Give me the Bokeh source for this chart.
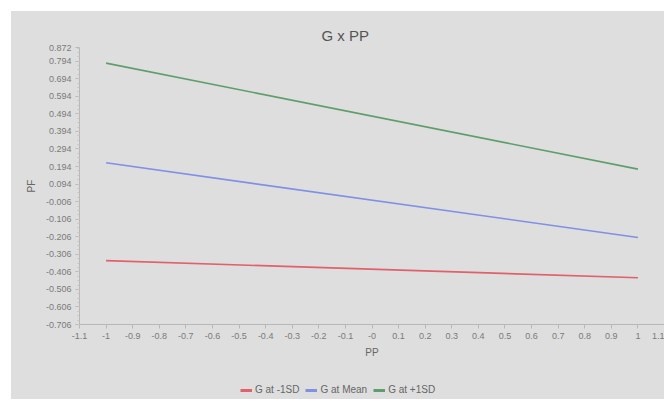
from bokeh.plotting import figure
from bokeh.models import FixedTicker, Legend, LegendItem, Range1d, Title
from bokeh.layouts import column
from bokeh.embed import file_html
from bokeh.resources import INLINE

# ---- data ----
pp = [-1, 1]
g_minus_1sd = [-0.342, -0.44]
g_mean = [0.215, -0.21]
g_plus_1sd = [0.783, 0.179]

series_names = ["G at -1SD", "G at Mean", "G at +1SD"]
series_colors = ["#e0606c", "#8090e4", "#5f9e6c"]

x_ticks = [-1.1, -1.0, -0.9, -0.8, -0.7, -0.6, -0.5, -0.4, -0.3, -0.2, -0.1, 0.0,
           0.1, 0.2, 0.3, 0.4, 0.5, 0.6, 0.7, 0.8, 0.9, 1.0, 1.1]
x_labels = ["-1.1", "-1", "-0.9", "-0.8", "-0.7", "-0.6", "-0.5", "-0.4", "-0.3", "-0.2",
            "-0.1", "-0", "0.1", "0.2", "0.3", "0.4", "0.5", "0.6", "0.7", "0.8", "0.9",
            "1", "1.1"]
y_ticks = [0.872, 0.794, 0.694, 0.594, 0.494, 0.394, 0.294, 0.194, 0.094, -0.006,
           -0.106, -0.206, -0.306, -0.406, -0.506, -0.606, -0.706]
y_labels = ["0.872", "0.794", "0.694", "0.594", "0.494", "0.394", "0.294", "0.194",
            "0.094", "-0.006", "-0.106", "-0.206", "-0.306", "-0.406", "-0.506",
            "-0.606", "-0.706"]
y_minor = [-0.706 + 0.025 * i for i in range(64)]

BG = "#dedede"
FONT = "Liberation Sans"
TXT = "#7a7a7a"

p = figure(width=653, height=364, output_backend="svg", toolbar_location=None,
           x_range=Range1d(-1.1, 1.1), y_range=Range1d(-0.706, 0.872),
           min_border_left=68, min_border_right=0, min_border_top=36,
           min_border_bottom=51)
p.frame_align = False
p.background_fill_color = BG
p.border_fill_color = BG
p.outline_line_color = None
p.grid.visible = False

title = Title(text="G x PP", align="left", offset=242, standoff=8,
              text_font=FONT, text_font_size="15px", text_font_style="normal",
              text_color="#555555")
p.add_layout(title, "above")

renderers = []
for ys, c in zip([g_minus_1sd, g_mean, g_plus_1sd], series_colors):
    r = p.line(pp, ys, line_color=c, line_width=1.6)
    renderers.append(r)

for ax in (p.xaxis[0], p.yaxis[0]):
    ax.axis_line_color = "#b8b8b8"
    ax.major_tick_line_color = "#b8b8b8"
    ax.minor_tick_line_color = "#c4c4c4"
    ax.major_label_text_font = FONT
    ax.major_label_text_font_size = "9px"
    ax.major_label_text_color = TXT
    ax.axis_label_text_font = FONT
    ax.axis_label_text_font_size = "10px"
    ax.axis_label_text_font_style = "normal"
    ax.axis_label_text_color = "#666666"
    ax.major_tick_in = 0
    ax.major_tick_out = 4
    ax.minor_tick_in = 0
    ax.minor_tick_out = 2

p.xaxis[0].ticker = FixedTicker(ticks=x_ticks)
p.xaxis[0].major_label_overrides = dict(zip(x_ticks, x_labels))
p.xaxis[0].axis_label = "PP"
p.xaxis[0].major_label_standoff = 4
p.xaxis[0].axis_label_standoff = 5

p.yaxis[0].ticker = FixedTicker(ticks=y_ticks, minor_ticks=y_minor)
p.yaxis[0].major_label_overrides = dict(zip(y_ticks, y_labels))
p.yaxis[0].axis_label = "PF"
p.yaxis[0].major_label_standoff = 4
p.yaxis[0].axis_label_standoff = 6

# legend strip (separate figure below the chart); its swatch lines carry the
# same series data but lie outside this strip's range, so only the legend shows
lg = figure(width=653, height=24, output_backend="svg", toolbar_location=None,
            x_axis_location=None, y_axis_location=None,
            x_range=Range1d(10, 11), y_range=Range1d(10, 11),
            min_border=0, min_border_left=0, min_border_right=0,
            min_border_top=0, min_border_bottom=0)
lg.frame_align = False
lg.background_fill_color = BG
lg.border_fill_color = BG
lg.outline_line_color = None
lg.grid.visible = False
lg_renderers = [lg.line(pp, ys, line_color=c, line_width=3)
                for ys, c in zip([g_minus_1sd, g_mean, g_plus_1sd], series_colors)]

legend = Legend(items=[LegendItem(label=n, renderers=[r]) for n, r in zip(series_names, lg_renderers)],
                orientation="horizontal", location=(229, 4),
                glyph_width=12, glyph_height=10, label_standoff=3, spacing=6,
                padding=2, margin=0, label_width=10, label_height=10,
                label_text_font=FONT, label_text_font_size="10px",
                label_text_color="#666666",
                border_line_color=None, background_fill_alpha=0)
lg.add_layout(legend, "center")

layout = column(p, lg, spacing=0)
layout.margin = (11, 0, 0, 11)
layout.styles = {"background-color": BG}

open("out.html", "w").write(file_html(layout, INLINE))
